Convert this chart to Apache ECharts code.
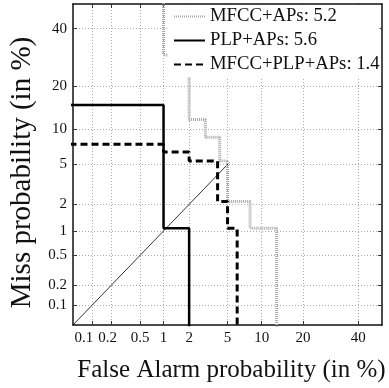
<!DOCTYPE html>
<html><head><meta charset="utf-8">
<script src="https://cdn.jsdelivr.net/npm/echarts@6/dist/echarts.min.js"></script>
<style>html,body{margin:0;padding:0;background:#fff}#c{width:389px;height:388px}</style>
</head><body><div id="c"></div>
<script>
// ---- data (percent) ----
const tickValues = [0.1, 0.2, 0.5, 1, 2, 5, 10, 20, 40];
const tickLabels = ['0.1', '0.2', '0.5', '1', '2', '5', '10', '20', '40'];
const axisMinPct = 0.05, axisMaxPct = 50;

const mfccFA   = [1, 1, 2, 2, 3, 3, 4.2, 4.2, 5, 5, 8, 8, 13.1, 13.1];
const mfccMiss = [99, 30.1, 30.1, 11.8, 11.8, 8.6, 8.6, 5.38, 5.38, 2.15, 2.15, 1.075, 1.075, 0.001];

const plpFA   = [0.001, 1, 1, 2, 2];
const plpMiss = [15.05, 15.05, 1.075, 1.075, 0.001];

const fusFA   = [0.001, 1, 1, 2, 2, 4.0, 4.0, 5, 5, 6.15, 6.15];
const fusMiss = [7.53, 7.53, 6.45, 6.45, 5.38, 5.38, 2.15, 2.15, 1.075, 1.075, 0.001];

const diagFA   = [0.05, 5.2];
const diagMiss = [0.05, 5.2];

const seriesNames = ['MFCC+APs: 5.2', 'PLP+APs: 5.6', 'MFCC+PLP+APs: 1.4'];

// ---- inverse normal CDF (Acklam) ----
function probit(p) {
  const a=[-3.969683028665376e+01,2.209460984245205e+02,-2.759285104469687e+02,1.383577518672690e+02,-3.066479806614716e+01,2.506628277459239e+00];
  const b=[-5.447609879822406e+01,1.615858368580409e+02,-1.556989798598866e+02,6.680131188771972e+01,-1.328068155288572e+01];
  const c=[-7.784894002430293e-03,-3.223964580411365e-01,-2.400758277161838e+00,-2.549732539343734e+00,4.374664141464968e+00,2.938163982698783e+00];
  const d=[7.784695709041462e-03,3.224671290700398e-01,2.445134137142996e+00,3.754408661907416e+00];
  const plow=0.02425, phigh=1-plow; let q,r;
  if (p<plow){q=Math.sqrt(-2*Math.log(p));return (((((c[0]*q+c[1])*q+c[2])*q+c[3])*q+c[4])*q+c[5])/((((d[0]*q+d[1])*q+d[2])*q+d[3])*q+1);}
  if (p<=phigh){q=p-0.5;r=q*q;return (((((a[0]*r+a[1])*r+a[2])*r+a[3])*r+a[4])*r+a[5])*q/(((((b[0]*r+b[1])*r+b[2])*r+b[3])*r+b[4])*r+1);}
  q=Math.sqrt(-2*Math.log(1-p));return -(((((c[0]*q+c[1])*q+c[2])*q+c[3])*q+c[4])*q+c[5])/((((d[0]*q+d[1])*q+d[2])*q+d[3])*q+1);
}
const pp = v => probit(v / 100);
const pairs = (xs, ys) => xs.map((x, i) => [pp(x), pp(ys[i])]);

const tickPos = tickValues.map(pp);
const nearest = v => { let bi = 0, bd = 1e9; tickPos.forEach((t, i) => { const dd = Math.abs(t - v); if (dd < bd) { bd = dd; bi = i; } }); return bi; };
const fmtY = v => tickLabels[nearest(v)];
// x labels: the two leftmost labels are nudged left as in the reference
const fmtX = v => { const i = nearest(v); return i === 0 ? '{a|' + tickLabels[i] + '}' : i === 1 ? '{b|' + tickLabels[i] + '}' : tickLabels[i]; };
const FONT = 'Liberation Serif';
const axMin = pp(axisMinPct), axMax = pp(axisMaxPct);

function mkAxis(pos, isMain, name, nameGap, nameSize, namePad, fmt) {
  return {
    type: 'value', position: pos, min: axMin, max: axMax,
    name: isMain ? name : '', nameLocation: 'middle', nameGap: nameGap,
    nameTextStyle: { fontFamily: FONT, fontSize: nameSize, color: '#111', padding: namePad },
    axisLine: { show: true, onZero: false, lineStyle: { color: '#111', width: 1.5 } },
    axisTick: { show: true, inside: true, length: 4, customValues: tickPos, lineStyle: { color: '#333', width: 1 } },
    axisLabel: { show: isMain, customValues: tickPos, formatter: fmt, fontFamily: FONT, fontSize: 15, color: '#111', margin: 6, interval: 0, hideOverlap: false,
      rich: { a: { fontFamily: FONT, fontSize: 15, color: '#111', padding: [0, 16, 0, 0] }, b: { fontFamily: FONT, fontSize: 15, color: '#111', padding: [0, 8, 0, 0] } } },
    splitLine: { show: isMain, lineStyle: { color: '#aaa', width: 1, type: [1, 2] } }
  };
}

const chart = echarts.init(document.getElementById('c'), null, { renderer: 'canvas' });
chart.setOption({
  animation: false,
  backgroundColor: '#fff',
  grid: { left: 73, right: 7, top: 4, bottom: 61, containLabel: false },
  xAxis: [mkAxis('bottom', true, 'False Alarm probability (in %)', 33, 25, [0, 0, 0, 8], fmtX), mkAxis('top', false, '', 0, 12, 0, fmtX)],
  yAxis: [mkAxis('left', true, 'Miss probability (in %)', 33, 29, [0, 16, 0, 0], fmtY), mkAxis('right', false, '', 0, 12, 0, fmtY)],
  legend: {
    data: seriesNames, orient: 'vertical', left: 168, top: 5,
    padding: [2, 0, 3, 5], itemGap: 5, itemWidth: 31, itemHeight: 14,
    backgroundColor: '#fff',
    itemStyle: { opacity: 0 },
    textStyle: { fontFamily: FONT, fontSize: 18.7, color: '#111', lineHeight: 19 }
  },
  series: [
    { name: seriesNames[0], type: 'line', data: pairs(mfccFA, mfccMiss), showSymbol: false, symbol: 'none', clip: true,
      itemStyle: { color: '#a8a8a8' }, lineStyle: { color: '#a8a8a8', width: 3, type: [1, 1] }, z: 3 },
    { name: seriesNames[1], type: 'line', data: pairs(plpFA, plpMiss), showSymbol: false, symbol: 'none', clip: true,
      itemStyle: { color: '#000' }, lineStyle: { color: '#000', width: 2.5, type: 'solid' }, z: 4 },
    { name: seriesNames[2], type: 'line', data: pairs(fusFA, fusMiss), showSymbol: false, symbol: 'none', clip: true,
      itemStyle: { color: '#000' }, lineStyle: { color: '#000', width: 3, type: [7, 4] }, z: 5 },
    { name: 'diag', type: 'line', data: pairs(diagFA, diagMiss), showSymbol: false, symbol: 'none', clip: true,
      itemStyle: { color: '#000' }, lineStyle: { color: '#000', width: 0.8 }, z: 2 }
  ]
});
</script></body></html>
